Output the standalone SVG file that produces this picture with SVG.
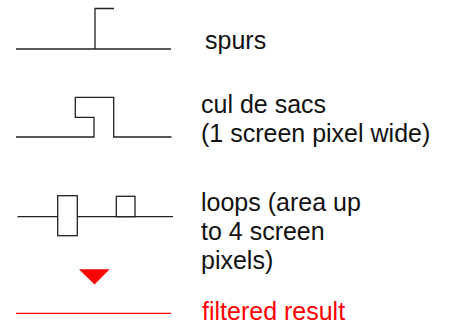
<svg xmlns="http://www.w3.org/2000/svg" width="450" height="325" viewBox="0 0 450 325">
<style>
.ln{fill:none;stroke:#222;stroke-width:1.3;stroke-linejoin:miter;stroke-linecap:butt}
.box{fill:#fff;stroke:#222;stroke-width:1.3}
.red{fill:none;stroke:#ff0000;stroke-width:1.3}
text{font-family:"Liberation Sans",Arial,sans-serif;font-size:25px;fill:#111}
.rt{fill:#ff0000}
</style>
<rect width="450" height="325" fill="#fff"/>
<g id="spurs">
<polyline class="ln" points="16,49 171,49"/>
<polyline class="ln" points="95,49 95,8.5 114,8.5"/>
<text x="205" y="49">spurs</text>
</g>
<g id="culdesacs">
<polyline class="ln" points="16,137 94,137 94,117.3 75.3,117.3 75.3,97.3 113.7,97.3 113.7,137 171.5,137"/>
<text x="201" y="113">cul de sacs</text>
<text x="201" y="142">(1 screen pixel wide)</text>
</g>
<g id="loops">
<polyline class="ln" points="17.5,216.7 173,216.7"/>
<rect class="box" x="57.7" y="195.7" width="19.6" height="40"/>
<rect class="box" x="116.3" y="196.3" width="18.7" height="20.4"/>
<text x="201" y="211">loops (area up</text>
<text x="201" y="240">to 4 screen</text>
<text x="201" y="269">pixels)</text>
</g>
<g id="arrow">
<polygon points="79,269.3 109.7,269.3 94.5,284.5" fill="#ff0000"/>
</g>
<g id="result">
<line class="red" x1="16" y1="313.3" x2="171" y2="313.3"/>
<text class="rt" x="202" y="319.5">filtered result</text>
</g>
</svg>
